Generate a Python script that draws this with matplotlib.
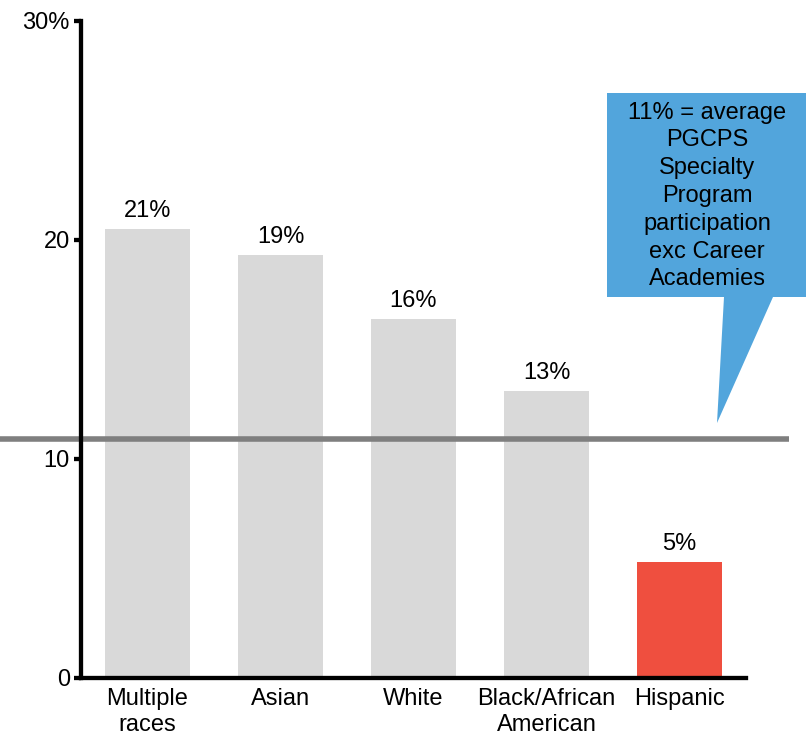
import numpy as np
import matplotlib.pyplot as plt
from matplotlib.patches import Polygon

plt.rcParams['font.family'] = ['Liberation Sans', 'DejaVu Sans']

# participation rate by race/ethnicity (%)
groups = ['Multiple\nraces', 'Asian', 'White', 'Black/African\nAmerican', 'Hispanic']
rates = [20.5, 19.3, 16.4, 13.1, 5.3]
colors = ['#d9d9d9', '#d9d9d9', '#d9d9d9', '#d9d9d9', '#ef4f3f']
average = 10.9
yticks = [0, 10, 20, 30]
ytick_labels = ['0', '10', '20', '30%']
note = '11% = average\nPGCPS\nSpecialty\nProgram\nparticipation\nexc Career\nAcademies'

fig = plt.figure(figsize=(8.06, 7.37), dpi=100)
ax = fig.add_axes([0.1005, 0.0801, 0.825, 0.892])

x = np.arange(len(groups))
bars = ax.bar(x, rates, width=0.64, color=colors, zorder=1)

# value labels on top of each bar
for b, v in zip(bars, rates):
    ax.annotate('{0:d}%'.format(int(v + 0.5)), (b.get_x() + b.get_width() / 2, v),
                xytext=(0, 5), textcoords='offset points',
                ha='center', va='bottom', fontsize=17)

# district average line, runs past the axes on both sides
ax.plot([-0.122, 1.065], [average, average], color='#7f7f7f', lw=4,
        transform=ax.get_yaxis_transform(), clip_on=False, zorder=2,
        solid_capstyle='butt')

ax.set_xlim(-0.5, 4.5)
ax.set_ylim(0, 30)
ax.set_xticks(x)
ax.set_xticklabels(groups, fontsize=17, linespacing=1.25)
ax.set_yticks(yticks)
ax.set_yticklabels(ytick_labels, fontsize=17)
ax.tick_params(axis='x', length=0, pad=7)
ax.tick_params(axis='y', length=5, width=3.1, pad=3)

for s in ['top', 'right']:
    ax.spines[s].set_visible(False)
for s in ['left', 'bottom']:
    ax.spines[s].set_linewidth(3.1)
    ax.spines[s].set_zorder(3)

# speech-bubble callout pointing at the average line
W, H = 806.0, 737.0
pts_px = [(607, 93), (806, 93), (806, 297), (773, 297), (717, 423), (724, 297), (607, 297)]
pts = [(px / W, 1 - py / H) for px, py in pts_px]
fig.patches.append(Polygon(pts, closed=True, facecolor='#52a5dc', edgecolor='none',
                           transform=fig.transFigure, zorder=5))
fig.text(707 / W, 1 - 196 / H, note, ha='center', va='center', fontsize=17,
         linespacing=1.34, zorder=6)

fig.savefig('out.png', dpi=100)
